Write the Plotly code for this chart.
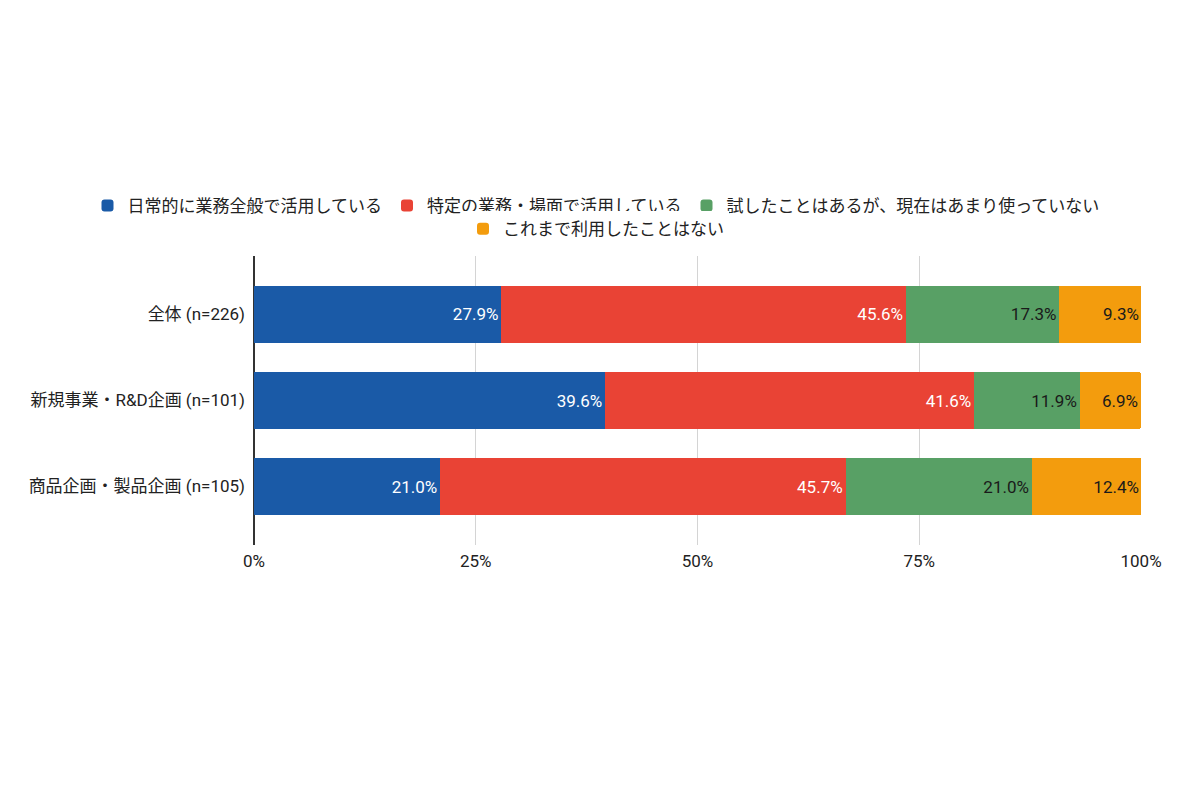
import plotly.graph_objects as go

# Data
categories = ["全体 (n=226)", "新規事業・R&D企画 (n=101)", "商品企画・製品企画 (n=105)"]
series_names = [
    "日常的に業務全般で活用している",
    "特定の業務・場面で活用している",
    "試したことはあるが、現在はあまり使っていない",
    "これまで利用したことはない",
]
daily = [27.9, 39.6, 21.0]
specific = [45.6, 41.6, 45.7]
tried = [17.3, 11.9, 21.0]
never = [9.3, 6.9, 12.4]
tick_vals = [0, 25, 50, 75, 100]
tick_text = ["0%", "25%", "50%", "75%", "100%"]

colors = ["#1a5aa7", "#e94335", "#58a065", "#f39c0d"]
text_colors = ["white", "white", "#1a1a1a", "#1a1a1a"]
legends = ["legend", "legend", "legend", "legend2"]

font_family = "Roboto, 'Noto Sans CJK JP', sans-serif"

fig = go.Figure()
for name, vals, col, tcol, lg in zip(series_names, [daily, specific, tried, never],
                                     colors, text_colors, legends):
    fig.add_trace(go.Bar(
        y=categories,
        x=vals,
        name=name,
        orientation="h",
        marker=dict(color=col, line=dict(width=0)),
        text=[f"{v:.1f}%" for v in vals],
        textposition="inside",
        insidetextanchor="end",
        textfont=dict(color=tcol, size=17, family=font_family),
        legend=lg,
    ))

# wide paper area so the legend row does not wrap; the axis sits in a narrower domain
# (the page body adds an 8px offset, margins are shifted to compensate)
fig.update_layout(
    barmode="stack",
    bargap=0.33,
    barcornerradius=3,
    width=1200,
    height=800,
    margin=dict(l=36, r=60, t=248, b=263),
    paper_bgcolor="white",
    plot_bgcolor="white",
    font=dict(family=font_family, size=17, color="#222222"),
    uniformtext=dict(mode="show", minsize=17),
    legend=dict(orientation="h", x=0.5, xanchor="center", y=1.173, yanchor="middle",
                font=dict(size=17, color="#222222"),
                itemclick=False, traceorder="normal"),
    legend2=dict(orientation="h", x=0.5, xanchor="center", y=1.093, yanchor="middle",
                 font=dict(size=17, color="#222222"),
                 itemclick=False),
    xaxis=dict(domain=[0.1902, 0.9937], range=[0, 100],
               tickvals=tick_vals, ticktext=tick_text,
               showgrid=True, gridcolor="#d4d4d4", gridwidth=1,
               zeroline=True, zerolinecolor="#333333", zerolinewidth=1.5,
               tickfont=dict(size=17, color="#222222"), ticks="", ticklabelstandoff=4),
    yaxis=dict(categoryorder="array", categoryarray=categories,
               range=[2.68, -0.68], showgrid=False, zeroline=False,
               tickfont=dict(size=17, color="#222222"), ticks="", ticklabelstandoff=8),
)

fig.write_html("out.html")
